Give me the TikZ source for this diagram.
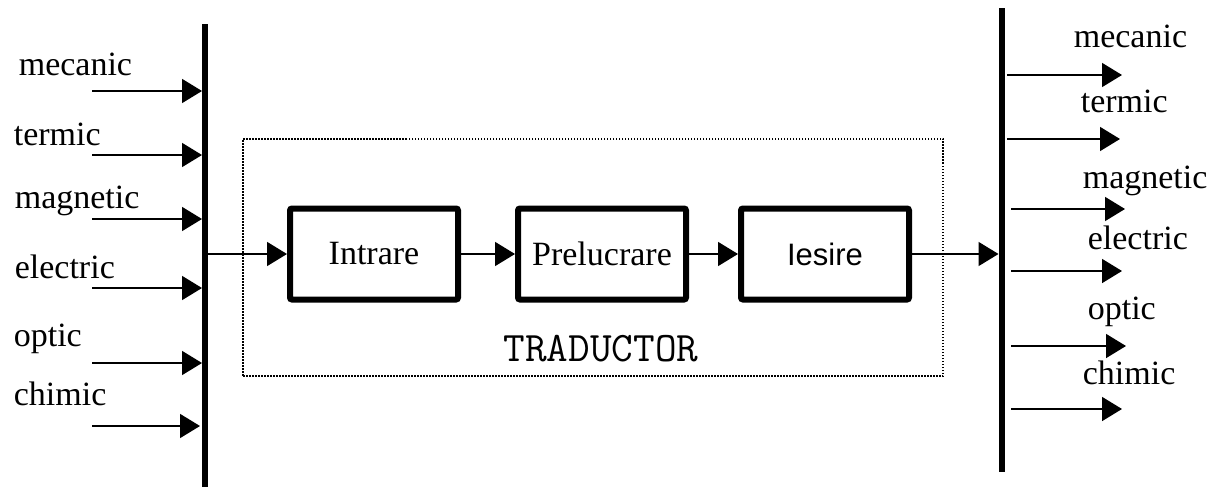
\documentclass[tikz,border=0pt]{standalone}
\usepackage{fontspec}
\setmainfont{Liberation Serif}
\newfontfamily\iesirefont{Liberation Sans}
\usetikzlibrary{arrows.meta,positioning}

\begin{document}
\begin{tikzpicture}[x=1pt, y=-1pt, line width=1.6pt,
    >={Triangle[length=20pt,width=24pt]},
    font=\fontsize{34}{40}\selectfont,
    block/.style={draw, line width=6pt, rounded corners=2pt,
        minimum width=168pt, minimum height=91pt},
    rail/.style={line width=6pt},
    sig/.style={anchor=base west, inner sep=0pt},
    frame/.style={draw, line width=1.3pt, dash pattern=on 1.5pt off 1.5pt,
        minimum width=700pt, minimum height=237pt}]
    \useasboundingbox (0,0) rectangle (1213,490);

    % dotted frame of the transducer
    \node[frame] (trad) at (593,257.5) {};
    \node[font=\ttfamily\fontsize{42}{48}\selectfont] (tradname) at (601,349) {TRADUCTOR};

    % the three stages
    \node[block] (intrare) at (374,254) {Intrare};
    \node[block, right=54pt of intrare] (prel) {Prelucrare};
    \node[block, right=49pt of prel, font=\iesirefont\fontsize{31}{38}\selectfont] (iesire) {Iesire};

    % rails
    \coordinate (intop) at (205,24);
    \coordinate (inbot) at (205,487);
    \coordinate (outtop) at (1002,8);
    \coordinate (outbot) at (1002,472);

    % inputs
    \coordinate (in1) at (92,91);
    \coordinate (in2) at (92,155);
    \coordinate (in3) at (92,219);
    \coordinate (in4) at (92,288);
    \coordinate (in5) at (92,363);
    \coordinate (in6) at (92,426);
    \node[sig] (lin1) at (18,75) {mecanic};
    \node[sig] (lin2) at (13,145) {termic};
    \node[sig] (lin3) at (14,208) {magnetic};
    \node[sig] (lin4) at (14,278) {electric};
    \node[sig] (lin5) at (13,346) {optic};
    \node[sig] (lin6) at (13,405) {chimic};
    \path[->, shorten >=3pt] (in1) edge (in1 -| intop);
    \path[->, shorten >=3pt] (in2) edge (in2 -| intop);
    \path[->, shorten >=3pt] (in3) edge (in3 -| intop);
    \path[->, shorten >=3pt] (in4) edge (in4 -| intop);
    \path[->, shorten >=3pt] (in5) edge (in5 -| intop);
    \path[->, shorten >=5pt] (in6) edge (in6 -| intop);

    % outputs
    \coordinate (out1) at (1122,75);
    \coordinate (out2) at (1120,139);
    \coordinate (out3) at (1125,209);
    \coordinate (out4) at (1122,271);
    \coordinate (out5) at (1126,346);
    \coordinate (out6) at (1122,409);
    \node[sig] (lout1) at (1073,47) {mecanic};
    \node[sig] (lout2) at (1080,112) {termic};
    \node[sig] (lout3) at (1082,188) {magnetic};
    \node[sig] (lout4) at (1087,249) {electric};
    \node[sig] (lout5) at (1087,319) {optic};
    \node[sig] (lout6) at (1082,384) {chimic};
    \path[->, shorten <=5pt] (out1 -| outtop) edge (out1);
    \path[->, shorten <=5pt] (out2 -| outtop) edge (out2);
    \path[->, shorten <=9pt] (out3 -| outtop) edge (out3);
    \path[->, shorten <=9pt] (out4 -| outtop) edge (out4);
    \path[->, shorten <=9pt] (out5 -| outtop) edge (out5);
    \path[->, shorten <=9pt] (out6 -| outtop) edge (out6);

    % signal through the stages
    \path[->] (intrare.west -| intop) edge (intrare);
    \path[->] (intrare) edge (prel);
    \path[->] (prel) edge (iesire);
    \path[->, shorten >=3.5pt] (iesire) edge (iesire.east -| outtop);

    \draw[rail] (intop) -- (inbot);
    \draw[rail] (outtop) -- (outbot);
\end{tikzpicture}
\end{document}
